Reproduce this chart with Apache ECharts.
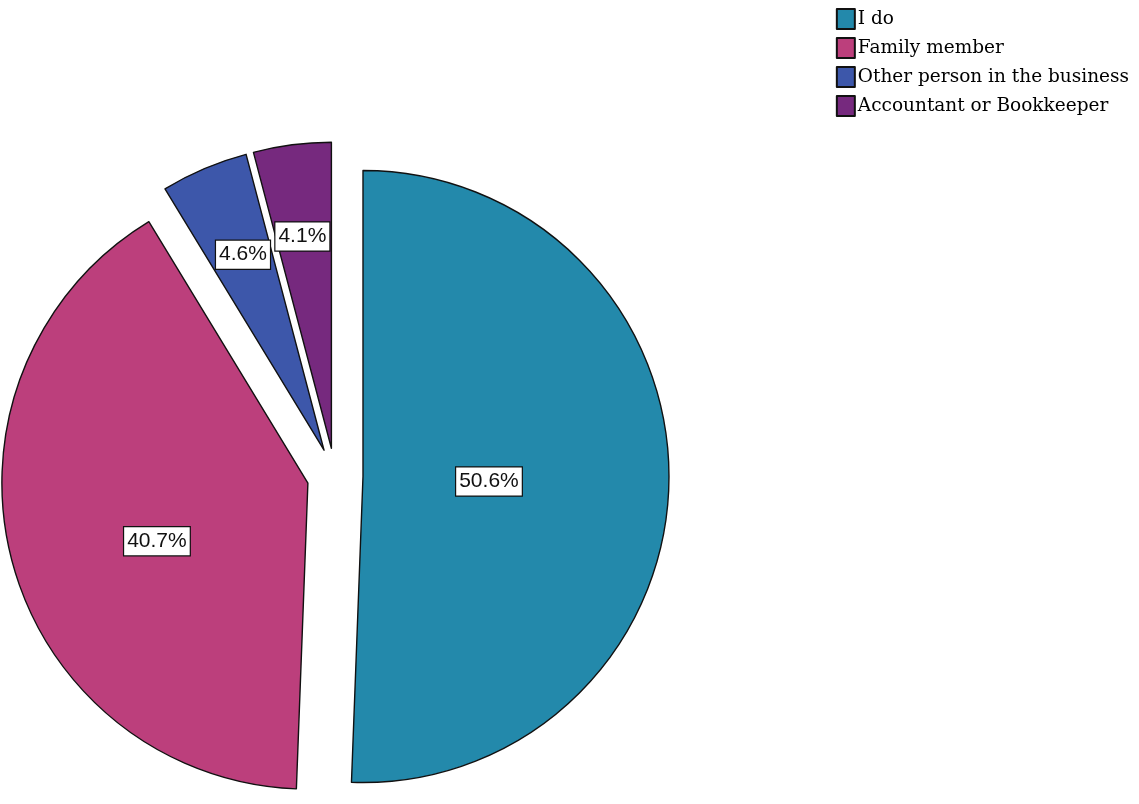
<!DOCTYPE html>
<html><head><meta charset="utf-8">
<script src="https://cdn.jsdelivr.net/npm/echarts@6/dist/echarts.min.js"></script>
<style>html,body{margin:0;padding:0;background:#fff}#c{width:1139px;height:804px}</style>
</head><body><div id="c"></div>
<script>
const categories = ['I do', 'Family member', 'Other person in the business', 'Accountant or Bookkeeper'];
const percents = [50.6, 40.7, 4.6, 4.1];
const colors = ['#2389AB', '#BC3F7C', '#3D57AA', '#76297E'];
const labelShift = [[-30, 2], [0, 19], [-20, -52], [-9, -57]];

const chart = echarts.init(document.getElementById('c'), null, {renderer: 'canvas'});
chart.setOption({
  animation: false,
  legend: {
    orient: 'vertical', right: 5, top: 3,
    icon: 'rect',
    itemWidth: 18, itemHeight: 20, itemGap: 7,
    textStyle: {fontFamily: 'DejaVu Serif', fontSize: 18.5, color: '#000', padding: [0,0,0,-2]},
    data: categories,
    selectedMode: false
  },
  series: [{
    type: 'pie',
    center: [335, 476],
    radius: 306,
    startAngle: 90,
    clockwise: true,
    selectedMode: 'multiple',
    selectedOffset: 28,
    silent: true,
    emphasis: {disabled: true},
    itemStyle: {borderColor: '#111', borderWidth: 1.4},
    label: {
      show: true, position: 'inside',
      formatter: '{c}%',
      fontFamily: 'Liberation Sans', fontSize: 21, color: '#111',
      backgroundColor: '#fff', borderColor: '#111', borderWidth: 1.2,
      padding: [4, 3, 3, 3]
    },
    labelLine: {show: false},
    labelLayout: function (p) {
      const s = labelShift[p.dataIndex];
      return {dx: s[0], dy: s[1]};
    },
    data: categories.map((n, i) => ({
      name: n, value: percents[i], selected: true,
      itemStyle: {color: colors[i]}
    }))
  }]
});
</script></body></html>
